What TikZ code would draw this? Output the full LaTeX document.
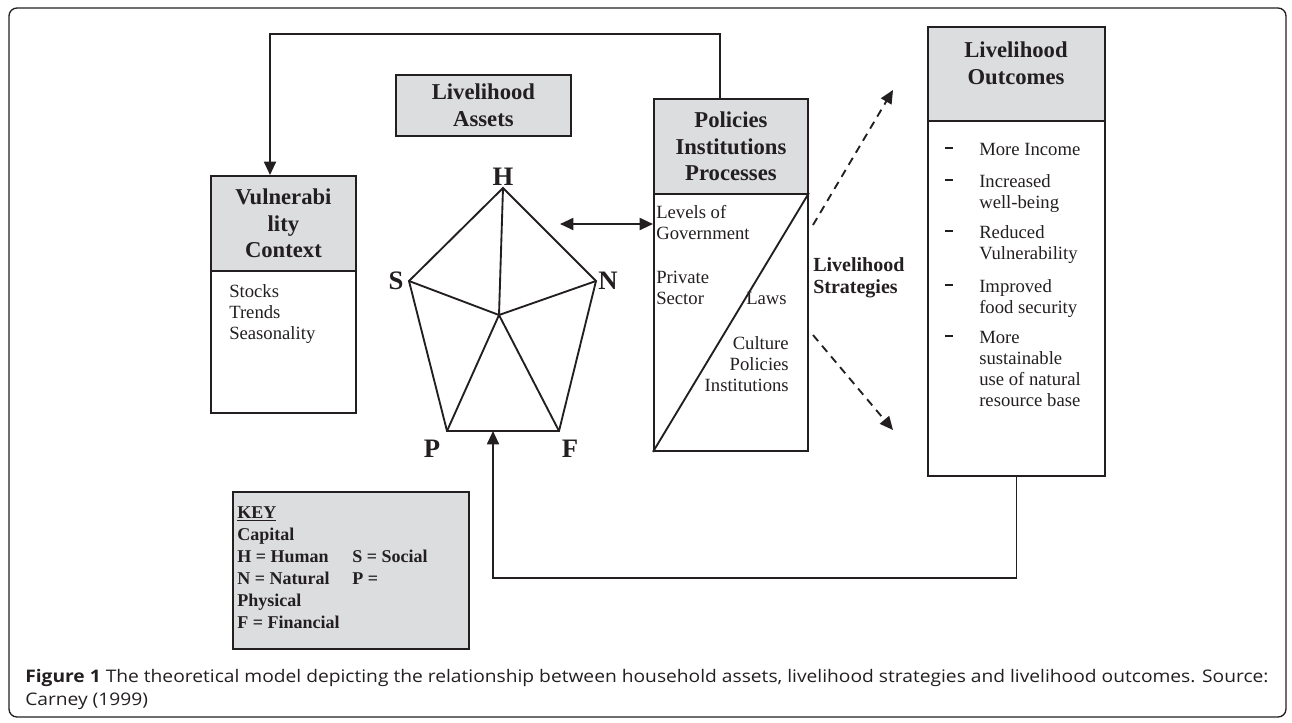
\documentclass[tikz,border=0pt]{standalone}
\usepackage{fontspec}
\setmainfont{Liberation Serif}
\newfontfamily\capfont{Open Sans}
\usetikzlibrary{arrows.meta}
\definecolor{ink}{HTML}{231F20}
\definecolor{boxgray}{HTML}{DCDDDF}
\def\pxu{0.75pt}
\tikzset{
 box/.style={draw=ink, line width=1.4pt, rectangle, inner sep=0pt, anchor=north west},
 hdr/.style={box, fill=boxgray},
 htext/.style={font=\fontsize{17}{20}\selectfont\bfseries, align=center, text=ink, inner sep=0pt},
 btext/.style={font=\fontsize{14}{15.75}\selectfont, align=left, text=ink, inner sep=0pt, anchor=base west},
 vlabel/.style={font=\fontsize{20}{24}\selectfont\bfseries, text=ink, inner sep=0pt},
 line/.style={draw=ink, line width=1.4pt},
 arr/.style={line, -{Triangle[length=10pt,width=9pt]}},
 dashbar/.style={draw=ink, line width=2pt},
}
\begin{document}
\begin{tikzpicture}[x=0.75pt,y=-0.75pt]
\useasboundingbox (0,0) rectangle (1292,722);
\draw[ink, line width=1pt, rounded corners=6pt] (9,8) rectangle (1286,717);

% Vulnerability
\node[hdr, htext, minimum width=145*\pxu, minimum height=95*\pxu] (vh) at (210,175) {Vulnerabi\\lity\\Context};
\node[box, minimum width=145*\pxu, minimum height=142*\pxu] (vb) at (210,270) {};
\node[btext] (vbt) at (229,339) {Stocks\\Trends\\Seasonality};

% Assets
\node[hdr, htext, minimum width=175*\pxu, minimum height=61*\pxu] (la) at (395,74) {Livelihood\\Assets};

% Policies
\node[hdr, htext, minimum width=154*\pxu, minimum height=95*\pxu] (ph) at (653,98) {Policies\\Institutions\\Processes};
\node[box, minimum width=154*\pxu, minimum height=257*\pxu] (pb) at (653,193) {};
\draw[line] (pb.south west) -- (pb.north east);
\node[btext] (pt1) at (656,239) {Levels of\\Government};
\node[btext] (pt2) at (656,304) {Private\\Sector};
\node[btext] (pt3) at (746,304) {Laws};
\node[btext, align=right, anchor=base east] (pt4) at (789,391) {Culture\\Policies\\Institutions};

% Outcomes
\node[hdr, minimum width=177*\pxu, minimum height=94*\pxu] (oh) at (927,26) {};
\node[htext] (oht) at (1016,63) {Livelihood\\Outcomes};
\node[box, minimum width=177*\pxu, minimum height=355*\pxu] (ob) at (927,120) {};
\node[btext] (o1) at (979,155) {More Income};
\node[btext] (o2) at (979,208) {Increased\\well-being};
\node[btext] (o3) at (979,259) {Reduced\\Vulnerability};
\node[btext] (o4) at (979,313) {Improved\\food security};
\node[btext] (o5) at (979,406) {More\\sustainable\\use of natural\\resource base};
\foreach \n/\k in {o1/0,o2/1,o3/1,o4/1,o5/3}{
  \draw[dashbar] ([xshift=-34*\pxu, yshift={(7+21*\k)*\pxu}]\n.base west) -- ([xshift=-26*\pxu, yshift={(7+21*\k)*\pxu}]\n.base west);
}

% Strategies
\node[font=\fontsize{15}{16}\selectfont\bfseries, align=left, anchor=base west, inner sep=0pt, text=ink] (ls) at (813,293) {Livelihood\\Strategies};

% Key
\node[hdr, minimum width=236*\pxu, minimum height=157*\pxu] (key) at (232,491) {};
\node[btext, font=\fontsize{13.5}{16.4}\selectfont\bfseries] (keyt) at (237,628) {\underline{KEY}\\Capital\\\makebox[86.25pt][l]{H = Human}S = Social\\\makebox[86.25pt][l]{N = Natural}P =\\Physical\\F = Financial};

% Pentagon
\coordinate (H) at (503,188);
\coordinate (S) at (409,281);
\coordinate (N) at (596,281);
\coordinate (P) at (447,431);
\coordinate (F) at (559,431);
\coordinate (C) at (499,315);
\draw[line, line join=miter] (H) -- (N) -- (F) -- (P) -- (S) -- cycle;
\draw[line] (C) -- (H) (C) -- (N) (C) -- (F) (C) -- (P) (C) -- (S);
\node[vlabel] (lH) at (503,177) {H};
\node[vlabel] (lS) at (396,281) {S};
\node[vlabel] (lN) at (608,281) {N};
\node[vlabel] (lP) at (432,449) {P};
\node[vlabel] (lF) at (570,449) {F};

% Connectors
\coordinate (t1) at (720,34);
\coordinate (t2) at (270,34);
\draw[arr] (ph.north -| t1) -- (t1) -- (t2) -- (t2 |- vh.north);
\coordinate (b2) at (493,578);
\draw[arr] (ob.south) |- (b2) -- (b2 |- P);
\coordinate (d1) at (560,224);
\draw[line, {Triangle[length=10pt,width=9pt]}-{Triangle[length=10pt,width=9pt]}] (d1) -- (d1 -| pb.west);
\coordinate (u1) at (813,225);
\coordinate (u2) at (893,90);
\coordinate (l1) at (813,335);
\coordinate (l2) at (893,430);
\draw[arr, dash pattern=on 6pt off 4.5pt] (u1) -- (u2);
\draw[arr, dash pattern=on 6pt off 4.5pt] (l1) -- (l2);

% Caption
\node[anchor=base west, inner sep=0pt, text=ink] (cap) at (25,705) {\scalebox{1.108}[1]{\capfont\fontsize{13}{17.25}\selectfont\begin{tabular}[b]{@{}l@{}}\textbf{Figure 1} The theoretical model depicting the relationship between household assets, livelihood strategies and livelihood outcomes. Source:\\Carney (1999)\end{tabular}}};
\end{tikzpicture}
\end{document}
